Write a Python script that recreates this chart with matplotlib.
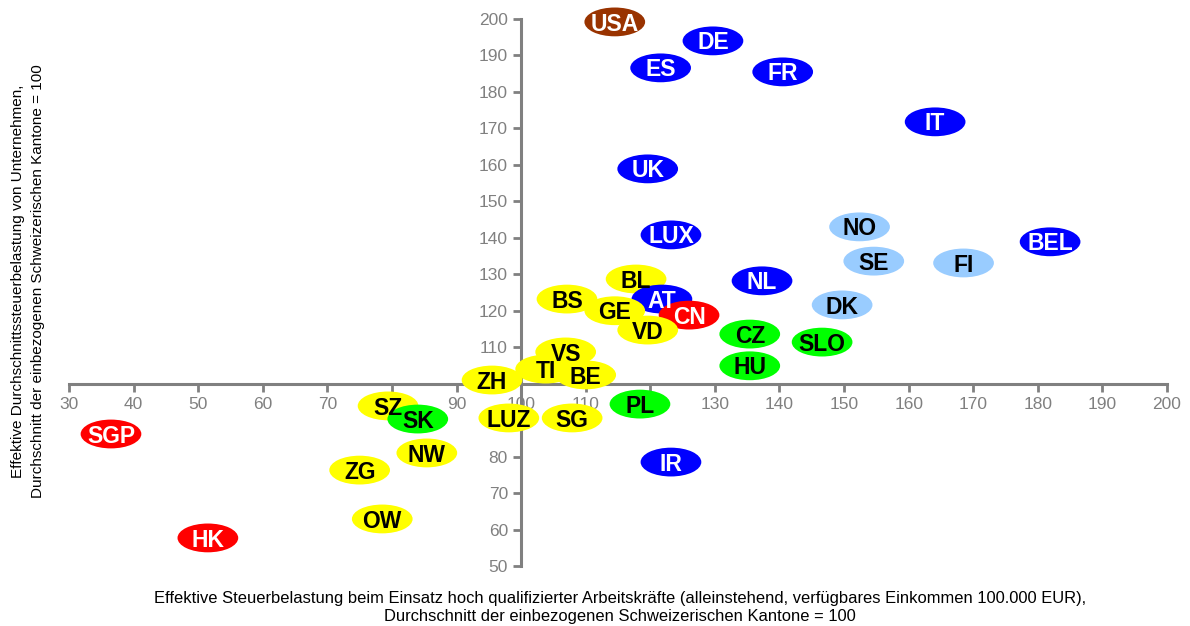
import matplotlib
matplotlib.use("Agg")
import matplotlib.pyplot as plt
from matplotlib.patches import Ellipse

plt.rcParams['font.family'] = ['Liberation Sans', 'DejaVu Sans']

labels = ["USA", "DE", "ES", "FR", "IT", "UK", "NO", "LUX", "BEL", "SE", "FI", "NL",
          "BL", "BS", "AT", "DK", "GE", "CN", "VD", "CZ", "SLO", "VS", "HU", "TI", "BE",
          "ZH", "SZ", "PL", "SK", "LUZ", "SG", "SGP", "NW", "IR", "ZG", "OW", "HK"]
x_vals = [114.5, 129.7, 121.6, 140.5, 164.1, 119.6, 152.4, 123.2, 181.9, 154.6, 168.5, 137.3,
          117.8, 107.1, 121.8, 149.7, 114.5, 126.0, 119.6, 135.4, 146.6, 106.9, 135.4, 103.8, 110.0,
          95.5, 79.4, 118.4, 84.0, 98.1, 107.9, 36.5, 85.4, 123.2, 75.0, 78.5, 51.5]
y_vals = [199.2, 194.0, 186.6, 185.5, 171.8, 158.9, 143.0, 140.8, 138.9, 133.6, 133.1, 128.2,
          128.7, 123.2, 123.2, 121.6, 120.0, 118.8, 114.7, 113.6, 111.4, 108.7, 104.9, 104.0, 102.4,
          101.0, 93.9, 94.4, 90.3, 90.6, 90.6, 86.2, 81.0, 78.5, 76.3, 62.9, 57.7]
groups = ["us", "eu", "eu", "eu", "eu", "eu", "nord", "eu", "eu", "nord", "nord", "eu",
          "ch", "ch", "eu", "nord", "ch", "asia", "ch", "east", "east", "ch", "east", "ch", "ch",
          "ch", "ch", "east", "east", "ch", "ch", "asia", "ch", "eu", "ch", "ch", "asia"]

fill_colors = {"us": "#993300", "eu": "#0000FF", "nord": "#99CCFF", "ch": "#FFFF00",
               "east": "#00FF00", "asia": "#FF0000"}
text_colors = {"us": "white", "eu": "white", "nord": "black", "ch": "black",
               "east": "black", "asia": "white"}

x_ticks = list(range(30, 201, 10))
y_ticks = list(range(50, 201, 10))

fig = plt.figure(figsize=(11.9, 6.26), dpi=100)
ax = fig.add_axes([69/1190, 1 - 566/626, (1167-69)/1190, (566-19)/626])
ax.set_xlim(30, 200)
ax.set_ylim(50, 200)

grey = "#808080"
ax.spines['left'].set_position(('data', 100))
ax.spines['bottom'].set_position(('data', 100))
ax.spines['right'].set_visible(False)
ax.spines['top'].set_visible(False)
for s in ('left', 'bottom'):
    ax.spines[s].set_color(grey)
    ax.spines[s].set_linewidth(2.2)
    ax.spines[s].set_zorder(1)

ax.set_xticks(x_ticks)
ax.set_yticks(y_ticks)
ax.tick_params(axis='both', colors=grey, labelcolor=grey, labelsize=12.5,
               width=2, length=6, direction='out')
ax.xaxis.set_zorder(1)
ax.yaxis.set_zorder(1)

for lab, xv, yv, g in zip(labels, x_vals, y_vals, groups):
    e = Ellipse((xv, yv), width=9.4, height=7.9, facecolor=fill_colors[g],
                edgecolor='none', zorder=5, clip_on=False)
    ax.add_patch(e)
    ax.annotate(lab, (xv, yv), xytext=(0, -6.2), textcoords='offset points',
                ha='center', va='baseline', fontsize=16.5, fontweight='bold',
                color=text_colors[g], zorder=6, annotation_clip=False)

fig.text(620/1190, 1 - 598/626,
         "Effektive Steuerbelastung beim Einsatz hoch qualifizierter Arbeitskräfte (alleinstehend, verfügbares Einkommen 100.000 EUR),",
         ha='center', va='center', fontsize=11.9, color='black')
fig.text(620/1190, 1 - 617/626,
         "Durchschnitt der einbezogenen Schweizerischen Kantone = 100",
         ha='center', va='center', fontsize=11.9, color='black')
fig.text(18/1190, 1 - 281/626,
         "Effektive Durchschnittssteuerbelastung von Unternehmen,",
         ha='center', va='center', rotation=90, fontsize=11, color='black')
fig.text(38/1190, 1 - 281/626,
         "Durchschnitt der einbezogenen Schweizerischen Kantone = 100",
         ha='center', va='center', rotation=90, fontsize=11, color='black')

fig.savefig("out.png", dpi=100)
